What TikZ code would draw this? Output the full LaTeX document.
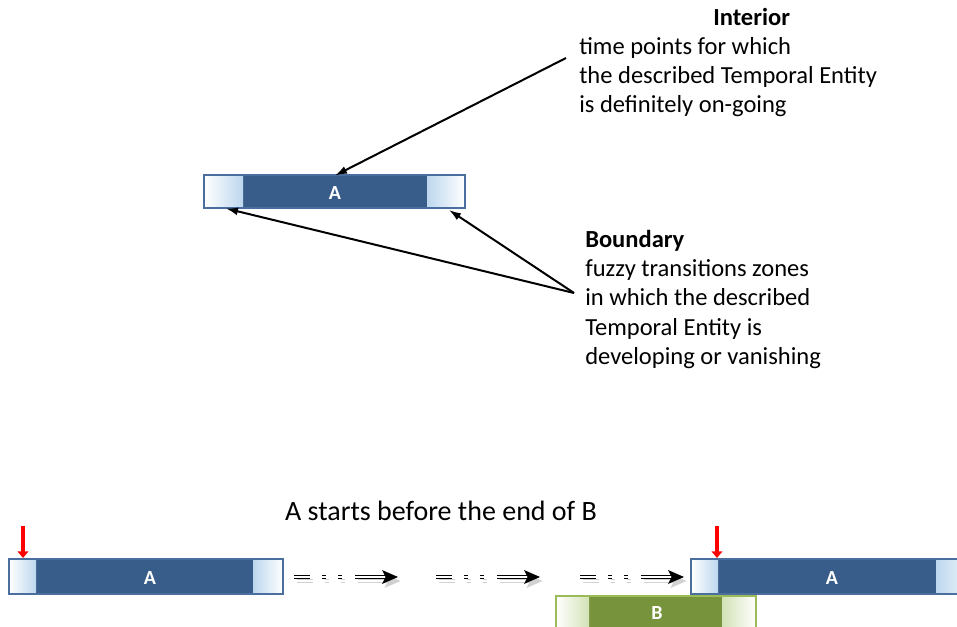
\documentclass[tikz,border=0pt]{standalone}
\usepackage{fontspec}
\setmainfont{Carlito}
\usetikzlibrary{arrows.meta}
\definecolor{darkblue}{HTML}{385D8A}
\definecolor{edgeblue}{HTML}{4A6E9E}
\definecolor{lightblue}{HTML}{BDD7EE}
\definecolor{olive}{HTML}{77933C}
\definecolor{lightolive}{HTML}{D3E2B6}
\definecolor{oliveedge}{HTML}{9BBB59}
\tikzset{
  body/.style={font=\fontsize{18.4}{22}\selectfont, anchor=base west, inner sep=0pt},
  bodyb/.style={body, font=\fontsize{18.4}{22}\selectfont\bfseries},
  lbl/.style={font=\fontsize{15}{17}\selectfont\bfseries, text=white, inner sep=0pt},
  pointer/.style={line width=1.5pt, -{Latex[length=9pt,width=6pt]}},
  redarrow/.style={draw=red, line width=2.6pt, -{Triangle[length=5pt,width=8pt]}},
  dbl/.style={double=white, double distance=1.1pt, line width=1.3pt},
}
\newcommand{\fuzzybox}[7]{% x1 x2 x3 x4 y1 y2 colour-set
  \fill[#7dark] (#2,#5) rectangle (#3,#6);
  \shade[left color=white, right color=#7light] (#1,#5) rectangle (#2,#6);
  \shade[left color=#7light, right color=white] (#3,#5) rectangle (#4,#6);
  \draw[#7edge, line width=0.8pt] (#1,#5) rectangle (#4,#6);
}
\colorlet{bluedark}{darkblue}\colorlet{bluelight}{lightblue}\colorlet{blueedge}{edgeblue}
\colorlet{olivedark}{olive}\colorlet{olivelight}{lightolive}\colorlet{oliveedge}{oliveedge}
\newcommand{\dasharrow}[2]{% start x, fill colour
  \begin{scope}[shift={(#1,0)}]
    \draw[dbl, #2] (0,577) -- (16,577);
    \draw[dbl, #2] (28,577) -- (32,577);
    \draw[dbl, #2] (44,577) -- (48,577);
    \draw[dbl, #2] (61,577) -- (92,577);
    \fill[#2] (88,570) -- (104,577) -- (88,584) -- (91.5,577) -- cycle;
  \end{scope}
}
\begin{document}
\begin{tikzpicture}[x=0.75pt,y=-0.75pt]
\useasboundingbox (0,0) rectangle (957,627);
\clip (0,0) rectangle (957,627);

% ---------- top part ----------
\fuzzybox{204}{243}{427}{465}{175}{208}{blue}
\node[lbl] (topA) at (335,193) {A};
\coordinate (intTip) at (335,175.5);
\coordinate (bndTipL) at (226,208.5);
\coordinate (bndTipR) at (449,210);

\node[bodyb] (int0) at (713,26) {Interior};
\node[body] (int1) at (579,55) {time points for which};
\node[body] (int2) at (579,84) {the described Temporal Entity};
\node[body] (int3) at (579,113) {is definitely on-going};

\node[bodyb] (bnd0) at (585,248) {Boundary};
\node[body] (bnd1) at (585,277) {fuzzy transitions zones};
\node[body] (bnd2) at (585,306) {in which the described};
\node[body] (bnd3) at (585,335) {Temporal Entity is};
\node[body] (bnd4) at (585,364) {developing or vanishing};

\coordinate (intStart) at (566,58);
\coordinate (bndStart) at (574,293);
\draw[pointer] (intStart) -- (intTip);
\draw[pointer] (bndStart) -- (bndTipL);
\draw[pointer] (bndStart) -- (bndTipR);

% ---------- bottom part ----------
\node[body, font=\fontsize{21}{25}\selectfont, anchor=base] (caption) at (441,520) {A starts before the end of B};

\fuzzybox{9}{36}{253}{283}{559}{594}{blue}
\node[lbl] (A1) at (150,578) {A};

\fuzzybox{556}{589}{722}{756}{596}{640}{olive}
\node[lbl] (B) at (657,613) {B};

\fuzzybox{691}{718}{936}{980}{559}{594}{blue}
\node[lbl] (A2) at (832,578) {A};

\coordinate (r1s) at (23,526); \coordinate (r1e) at (23,558);
\coordinate (r2s) at (717,526); \coordinate (r2e) at (717,558);
\draw[redarrow] (r1s) -- (r1e);
\draw[redarrow] (r2s) -- (r2e);

\foreach \sx in {294,436,580}{
  \begin{scope}[shift={(2.5,4)}]\dasharrow{\sx}{black!18}\end{scope}
  \dasharrow{\sx}{black}
}
\end{tikzpicture}
\end{document}
